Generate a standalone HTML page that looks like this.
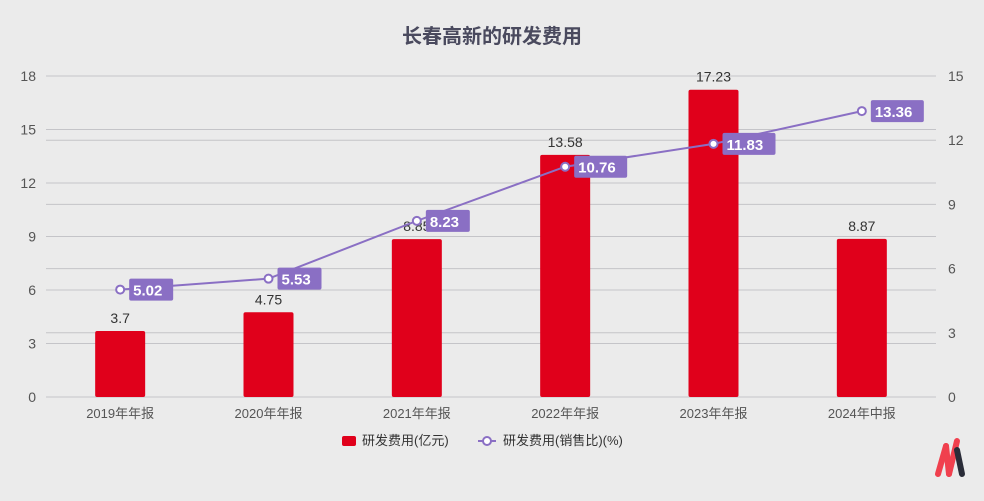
<!DOCTYPE html>
<html><head><meta charset="utf-8"><style>
body{margin:0;background:#ebebeb;}
svg{display:block;font-family:"Liberation Sans","Noto Sans CJK SC",sans-serif;}
</style></head><body>
<svg id="c" width="984" height="501">
<rect width="984" height="501" fill="#ebebeb"/>
<text x="492" y="43" text-anchor="middle" font-size="20" font-weight="bold" fill="#4a4a5e">长春高新的研发费用</text>
<g id="grid"></g><g id="bars"></g><g id="line"></g><g id="labels"></g>
<g>
<rect x="342" y="436" width="14" height="10" rx="2" fill="#e0001b"/>
<text x="362" y="445" font-size="13" fill="#333">研发费用(亿元)</text>
<line x1="478" y1="441" x2="496" y2="441" stroke="#8a6fc4" stroke-width="2"/>
<circle cx="487" cy="441" r="4" fill="#fff" stroke="#8a6fc4" stroke-width="2"/>
<text x="503" y="445" font-size="13" fill="#333">研发费用(销售比)(%)</text>
</g>
<g stroke-linecap="round" fill="none">
<line x1="938" y1="474" x2="946" y2="446" stroke="#f0404e" stroke-width="6"/>
<line x1="946" y1="446" x2="949" y2="474" stroke="#f0404e" stroke-width="6"/>
<line x1="949" y1="474" x2="957" y2="441" stroke="#f0404e" stroke-width="6"/>
<line x1="957" y1="450" x2="962" y2="474" stroke="#2a2c38" stroke-width="6"/>
</g>
</svg>
<script>
const categories=["2019年年报","2020年年报","2021年年报","2022年年报","2023年年报","2024年中报"];
const expense=[3.7,4.75,8.85,13.58,17.23,8.87];
const ratio=[5.02,5.53,8.23,10.76,11.83,13.36];
const leftTicks=[0,3,6,9,12,15,18];
const rightTicks=[0,3,6,9,12,15];
const NS="http://www.w3.org/2000/svg";
const X0=46,X1=936,Y0=397,Y1=76;
const bw=(X1-X0)/categories.length;
const xc=i=>X0+bw*(i+0.5);
const yl=v=>Y0-(v/18)*(Y0-Y1);
const yr=v=>Y0-(v/15)*(Y0-Y1);
function mk(t,a,p,txt){const e=document.createElementNS(NS,t);for(const k in a)e.setAttribute(k,a[k]);if(txt!==undefined)e.textContent=txt;p.appendChild(e);return e;}
const grid=document.getElementById('grid'),bars=document.getElementById('bars'),line=document.getElementById('line'),labels=document.getElementById('labels');
leftTicks.forEach(v=>{
 const l=mk('line',{x1:X0,x2:X1,y1:yl(v),y2:yl(v),stroke:'#c4c4c8','stroke-width':1},grid);
 
 
 const t=mk('text',{x:36,y:yl(v)+5,'text-anchor':'end','font-size':14,fill:'#555'},grid,String(v));
 
 
});
rightTicks.forEach(v=>{
 const l=mk('line',{x1:X0,x2:X1,y1:yr(v),y2:yr(v),stroke:'#c4c4c8','stroke-width':1},grid);
 
 
 const t=mk('text',{x:948,y:yr(v)+5,'font-size':14,fill:'#555'},grid,String(v));
 
 
});
categories.forEach((c,i)=>{
 const t=mk('text',{x:xc(i),y:418,'text-anchor':'middle','font-size':13,fill:'#555'},grid,c);
 
 
});
expense.forEach((v,i)=>{
 const b=mk('rect',{x:xc(i)-25,y:yl(v),width:50,height:Y0-yl(v),rx:2,fill:'#e0001b'},bars);
 
 
 const t=mk('text',{x:xc(i),y:yl(v)-8,'text-anchor':'middle','font-size':14,fill:'#333'},bars,String(v));
 
 
});
const pl=mk('polyline',{points:ratio.map((v,i)=>xc(i)+','+yr(v)).join(' '),fill:'none',stroke:'#8a6fc4','stroke-width':2},line);


ratio.forEach((v,i)=>{
 const c=mk('circle',{cx:xc(i),cy:yr(v),r:4,fill:'#fff',stroke:'#8a6fc4','stroke-width':2},line);
 
 
 const s=v.toFixed(2),w=s.length*9+8;
 const r=mk('rect',{x:xc(i)+9,y:yr(v)-11,width:w,height:22,rx:2,fill:'#8a6fc4'},labels);
 
 
 const t=mk('text',{x:xc(i)+13,y:yr(v)+6,'font-size':15,'font-weight':'bold',fill:'#fff'},labels,s);
 
 
});
</script>
</body></html>
